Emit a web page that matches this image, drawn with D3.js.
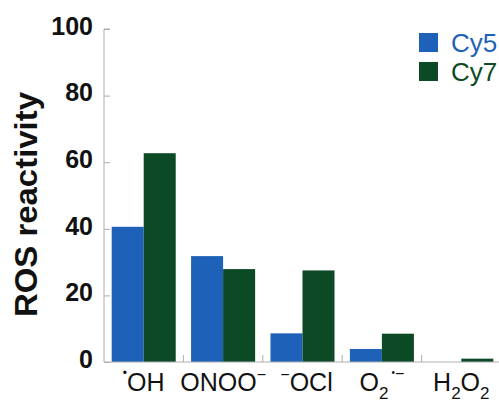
<!DOCTYPE html>
<html>
<head>
<meta charset="utf-8">
<script src="https://cdn.jsdelivr.net/npm/d3@7"></script>
<style>
  html, body { margin: 0; padding: 0; background: #ffffff; }
  svg { display: block; font-family: "Liberation Sans", Arial, sans-serif; }
</style>
</head>
<body>
<svg id="chart" width="499" height="403"></svg>
<script>
const categories = ["OH", "ONOO", "OCl", "O2", "H2O2"];
const seriesNames = ["Cy5", "Cy7"];
const cy5Values = [40.6, 31.8, 8.6, 3.9, 0];
const cy7Values = [62.7, 27.9, 27.5, 8.5, 1.0];
const yTicks = [0, 20, 40, 60, 80, 100];
const seriesColors = ["#1d62b8", "#0b4a24"];

const svg = d3.select("#chart");
const margin = {top: 29, left: 104, bottom: 41};
const W = 499, H = 403;
const plotBottom = H - margin.bottom;

const x = d3.scaleBand().domain(categories).range([margin.left, margin.left + 5 * 79.4]).padding(0);
const xInner = d3.scaleBand().domain(seriesNames).range([0, x.bandwidth()]).paddingInner(0).paddingOuter(0.24);
const y = d3.scaleLinear().domain([0, 100]).range([plotBottom, margin.top]);

const data = categories.map((c, i) => ({cat: c, values: [
  {s: "Cy5", v: cy5Values[i]}, {s: "Cy7", v: cy7Values[i]}
]}));

// bars
const groups = svg.append("g").selectAll("g").data(data).join("g")
  .attr("transform", d => `translate(${x(d.cat)},0)`);
groups.selectAll("rect").data(d => d.values.filter(e => e.v > 0)).join("rect")
  .attr("x", d => xInner(d.s))
  .attr("width", xInner.bandwidth())
  .attr("y", d => y(d.v))
  .attr("height", d => y(0) - y(d.v))
  .attr("fill", d => seriesColors[seriesNames.indexOf(d.s)]);

// y axis
const yAxis = d3.axisRight(y).tickValues(yTicks).tickSize(6).tickFormat("");
const gy = svg.append("g").attr("transform", `translate(${margin.left},0)`).call(yAxis);
gy.select(".domain").attr("stroke", "#b0acae").attr("d", `M6,${y(100)}H0V${y(0)}`);
gy.selectAll(".tick line").attr("stroke", "#b0acae");
svg.append("g").selectAll("text").data(yTicks).join("text")
  .attr("x", 93).attr("y", d => y(d) - 3).attr("dy", "0.35em")
  .attr("text-anchor", "end")
  .attr("font-size", 25).attr("font-weight", "bold").attr("fill", "#111")
  .text(d => d);

// x axis
const gx = svg.append("g").attr("transform", `translate(0,${plotBottom})`);
gx.append("line").attr("x1", margin.left).attr("x2", W).attr("y1", 0).attr("y2", 0).attr("stroke", "#b0acae");
gx.selectAll(".tk").data(categories.slice(1)).join("line").attr("class", "tk")
  .attr("x1", d => x(d)).attr("x2", d => x(d)).attr("y1", 0).attr("y2", -7)
  .attr("stroke", "#b0acae");

// x labels
const labels = svg.append("g").attr("font-size", 25).attr("fill", "#111");
function lab(cat) {
  return labels.append("text").attr("x", x(cat) + x.bandwidth() / 2).attr("y", 391).attr("text-anchor", "middle");
}
let t;
t = lab("OH");
t.append("tspan").attr("font-size", 12).attr("dy", -14).text("•");
t.append("tspan").attr("dy", 14).text("OH");

t = lab("ONOO");
t.append("tspan").text("ONOO");
t.append("tspan").attr("font-size", 16).attr("dy", -11).text("\u2212");

t = lab("OCl");
t.attr("x", x("OCl") + x.bandwidth() / 2 + 4);
t.append("tspan").attr("font-size", 16).attr("dy", -11).text("\u2212");
t.append("tspan").attr("dy", 11).text("OCl");

t = lab("O2");
t.append("tspan").text("O");
t.append("tspan").attr("font-size", 17).attr("dy", 8).text("2");
t.append("tspan").attr("font-size", 10).attr("dy", -23).attr("dx", 3).text("•");
t.append("tspan").attr("font-size", 16).attr("dy", 3).text("\u2212");

t = lab("H2O2");
t.append("tspan").text("H");
t.append("tspan").attr("font-size", 17).attr("dy", 8).text("2");
t.append("tspan").attr("dy", -8).text("O");
t.append("tspan").attr("font-size", 17).attr("dy", 8).text("2");

// y title
svg.append("text")
  .attr("transform", "translate(37,204.5) rotate(-90)")
  .attr("text-anchor", "middle")
  .attr("font-size", 31).attr("font-weight", "bold").attr("fill", "#111")
  .attr("textLength", 225).attr("lengthAdjust", "spacingAndGlyphs")
  .text("ROS reactivity");

// legend
const legend = svg.append("g");
seriesNames.forEach((s, i) => {
  legend.append("rect").attr("x", 419).attr("y", 33 + i * 29).attr("width", 19).attr("height", 19).attr("fill", seriesColors[i]);
  legend.append("text").attr("x", 451).attr("y", 52 + i * 29).attr("font-size", 26).attr("fill", seriesColors[i]).text(s);
});
</script>
</body>
</html>
